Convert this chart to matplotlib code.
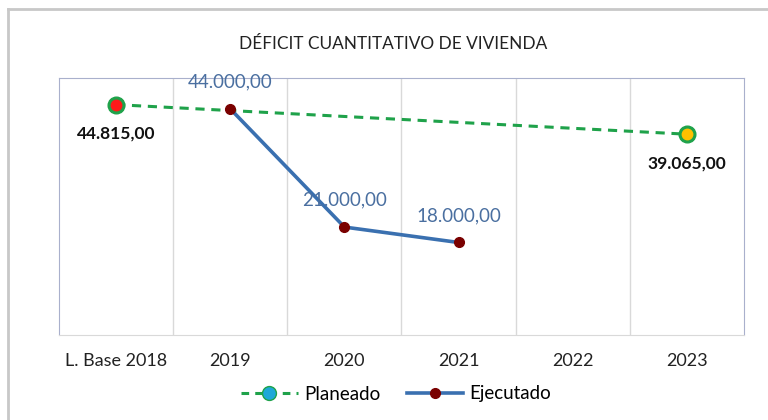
import matplotlib.pyplot as plt
from matplotlib.lines import Line2D
import numpy as np

plt.rcParams['font.family'] = ['Lato', 'DejaVu Sans']

categorias = ['L. Base 2018', '2019', '2020', '2021', '2022', '2023']
# planeado: linea base y meta 2023
plan_idx = [0, 5]
plan_val = [44815, 39065]
plan_lbl = ['44.815,00', '39.065,00']
plan_face = ['#FF1A1A', '#FFC000']
# ejecutado
ejec_idx = [1, 2, 3]
ejec_val = [44000, 21000, 18000]
ejec_lbl = ['44.000,00', '21.000,00', '18.000,00']

verde = '#1FA24A'
azul = '#3A70B0'
rojo = '#7A0000'

fig = plt.figure(figsize=(7.68, 4.2), dpi=100)
ax = fig.add_axes([59/768, 1-335/420, (744-59)/768, (335-78)/420])

x = np.arange(len(categorias))
ax.plot(plan_idx, plan_val, color=verde, ls=(0, (3, 2.2)), lw=2.2, zorder=3)
for i, v, fc in zip(plan_idx, plan_val, plan_face):
    ax.plot(i, v, marker='o', ms=12, mfc=verde, mec=verde, zorder=4)
    ax.plot(i, v, marker='o', ms=7.5, mfc=fc, mec=fc, zorder=5)
for i, v, t in zip(plan_idx, plan_val, plan_lbl):
    ax.annotate(t, (i, v), xytext=(0, -21), textcoords='offset points',
                ha='center', va='center', fontsize=12.5, fontweight='bold', color='#111111')

ax.plot(ejec_idx, ejec_val, color=azul, lw=2.6, marker='o', ms=7,
        mfc=rojo, mec=rojo, zorder=6)
for i, v, t in zip(ejec_idx, ejec_val, ejec_lbl):
    ax.annotate(t, (i, v), xytext=(0, 19.5), textcoords='offset points',
                ha='center', va='center', fontsize=13.5, color='#4A6FA0', zorder=7)

ax.set_xlim(-0.5, 5.5)
ax.set_ylim(0, 50000)
ax.set_yticks([])
ax.set_xticks(x)
ax.set_xticklabels(categorias, fontsize=13, color='#222222')
ax.tick_params(axis='x', length=0, pad=13)
for b in np.arange(0.5, 5.5, 1):
    ax.axvline(b, color='#D9D9D9', lw=1, zorder=1)
for s in ['left', 'right', 'top']:
    ax.spines[s].set_color('#A9B0CC')
ax.spines['bottom'].set_color('#D9D9D9')

ax.set_title('DÉFICIT CUANTITATIVO DE VIVIENDA', fontsize=12.4, color='#222222',
             pad=21, x=0.488)

h1 = Line2D([], [], color=verde, ls=(0, (2.5, 2)), lw=2.2, marker='o', ms=10,
            mfc='#1EA8D8', mec=verde)
h2 = Line2D([], [], color=azul, lw=2.6, marker='o', ms=7, mfc=rojo, mec=rojo)
fig.legend([h1, h2], ['Planeado', 'Ejecutado'], loc='center', bbox_to_anchor=(0.516, 1-394/420),
           ncol=2, frameon=False, fontsize=13.5, handlelength=3.0, handletextpad=0.35,
           columnspacing=1.4)

# borde del area del grafico
fig.add_artist(Line2D([8/768, 8/768], [0, 1-9/420], color='#C8C8C8', lw=2))
fig.add_artist(Line2D([8/768, 1], [1-9/420, 1-9/420], color='#C8C8C8', lw=2))

fig.savefig('out.png', dpi=100)
